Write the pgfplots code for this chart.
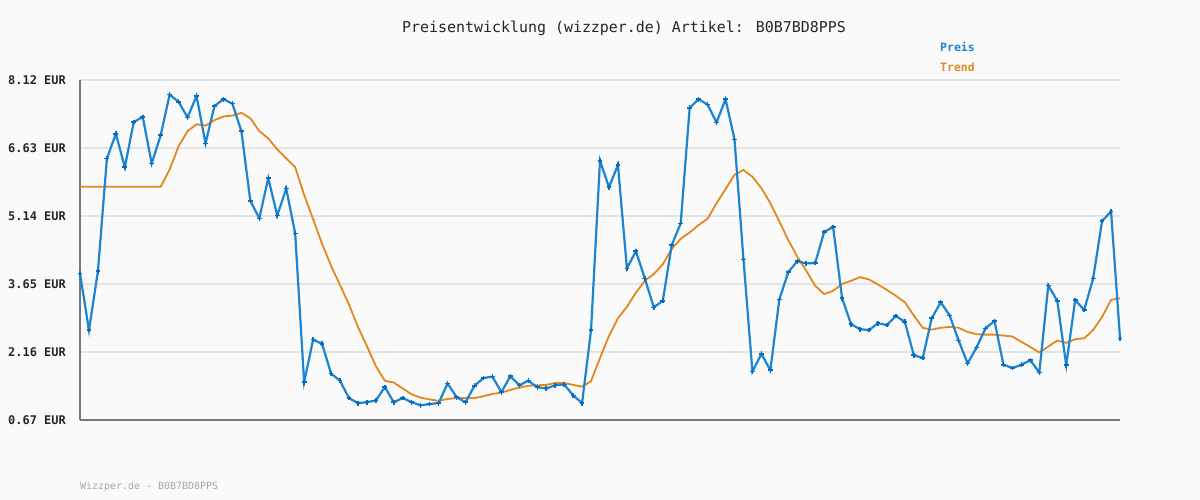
\documentclass[border=0pt]{standalone}
\usepackage{fontspec}
\setmainfont{DejaVu Sans Mono}
\usepackage{pgfplots}
\usepackage{pgfplotstable}
\pgfplotsset{compat=1.18}
\definecolor{bg}{HTML}{FAFAFA}
\definecolor{preis}{HTML}{1C84D2}
\definecolor{preismark}{HTML}{0A6CB8}
\definecolor{trend}{HTML}{E4871F}
\definecolor{gridc}{HTML}{E4E4E4}
\definecolor{axc}{HTML}{777777}
\pgfplotstableread{
i p t
1 3.88 5.78
2 2.64 5.78
3 3.93 5.78
4 6.40 5.78
5 6.94 5.78
6 6.21 5.78
7 7.20 5.78
8 7.31 5.78
9 6.29 5.78
10 6.91 5.78
11 7.80 6.16
12 7.64 6.67
13 7.30 7.00
14 7.77 7.15
15 6.73 7.12
16 7.55 7.24
17 7.70 7.32
18 7.60 7.34
19 7.00 7.40
20 5.47 7.28
21 5.09 7.00
22 5.97 6.84
23 5.15 6.60
24 5.74 6.40
25 4.76 6.21
26 1.50 5.60
27 2.43 5.07
28 2.34 4.53
29 1.69 4.05
30 1.53 3.63
31 1.15 3.20
32 1.04 2.71
33 1.06 2.29
34 1.10 1.85
35 1.39 1.53
36 1.06 1.49
37 1.15 1.36
38 1.06 1.23
39 0.99 1.16
40 1.02 1.12
41 1.04 1.09
42 1.47 1.13
43 1.17 1.15
44 1.06 1.15
45 1.42 1.15
46 1.59 1.19
47 1.62 1.24
48 1.28 1.27
49 1.63 1.33
50 1.43 1.38
51 1.53 1.42
52 1.39 1.43
53 1.36 1.44
54 1.43 1.48
55 1.45 1.48
56 1.21 1.44
57 1.04 1.40
58 2.64 1.52
59 6.35 2.03
60 5.77 2.51
61 6.26 2.90
62 3.99 3.15
63 4.37 3.46
64 3.77 3.72
65 3.14 3.87
66 3.28 4.08
67 4.50 4.42
68 4.98 4.64
69 7.51 4.78
70 7.70 4.94
71 7.58 5.08
72 7.19 5.42
73 7.70 5.73
74 6.82 6.04
75 4.19 6.15
76 1.73 6.00
77 2.12 5.75
78 1.76 5.42
79 3.31 5.02
80 3.91 4.61
81 4.15 4.25
82 4.10 3.94
83 4.11 3.61
84 4.79 3.43
85 4.90 3.50
86 3.34 3.65
87 2.77 3.72
88 2.66 3.80
89 2.64 3.75
90 2.79 3.64
91 2.75 3.52
92 2.95 3.39
93 2.82 3.25
94 2.09 2.96
95 2.03 2.69
96 2.90 2.65
97 3.25 2.69
98 2.96 2.71
99 2.41 2.69
100 1.91 2.60
101 2.26 2.55
102 2.68 2.54
103 2.84 2.54
104 1.88 2.52
105 1.81 2.50
106 1.88 2.38
107 1.98 2.27
108 1.71 2.15
109 3.62 2.28
110 3.28 2.41
111 1.87 2.36
112 3.30 2.44
113 3.08 2.46
114 3.77 2.64
115 5.03 2.93
116 5.24 3.30
117 2.46 3.34
}\data
\begin{document}
\begin{tikzpicture}[x=1bp,y=1bp]
\fill[bg] (0,0) rectangle (1200,500);
\useasboundingbox (0,0) rectangle (1200,500);
\begin{axis}[
  at={(80bp,80bp)}, anchor=south west,
  scale only axis, width=1040bp, height=340bp,
  xmin=1, xmax=117, ymin=0.67, ymax=8.12,
  axis lines=left,
  axis line style={draw=axc, line width=2bp, -},
  xtick=\empty,
  ytick={0.67,2.16,3.65,5.14,6.63,8.12},
  yticklabels={0.67 EUR,2.16 EUR,3.65 EUR,5.14 EUR,6.63 EUR,8.12 EUR},
  major tick length=0pt,
  yticklabel style={font=\bfseries\fontsize{12}{12}\selectfont, text=black!85, anchor=east, inner sep=0pt, xshift=-14bp},
  ymajorgrids,
  grid style={draw=gridc, line width=1.8bp},
  clip=false,
]
\addplot[trend, line width=1.8bp, no marks] table[x=i, y=t] {\data};
\addplot[preis, line width=2.2bp, mark=+, mark size=2.4bp, mark options={line width=1.5bp, draw=preismark}] table[x=i, y=p] {\data};
\end{axis}
\node[font=\fontsize{15}{15}\selectfont, text=black!85] at (624,472) {Preisentwicklung (wizzper.de) Artikel: B0B7BD8PPS};
\node[anchor=west, font=\bfseries\fontsize{11.5}{11.5}\selectfont, text=preis, inner sep=0pt] at (940,453) {Preis};
\node[anchor=west, font=\bfseries\fontsize{11.5}{11.5}\selectfont, text=trend, inner sep=0pt] at (940,433) {Trend};
\node[anchor=west, font=\fontsize{10}{10}\selectfont, text=black!35, inner sep=0pt] at (80,13) {Wizzper.de - B0B7BD8PPS};
\end{tikzpicture}
\end{document}
